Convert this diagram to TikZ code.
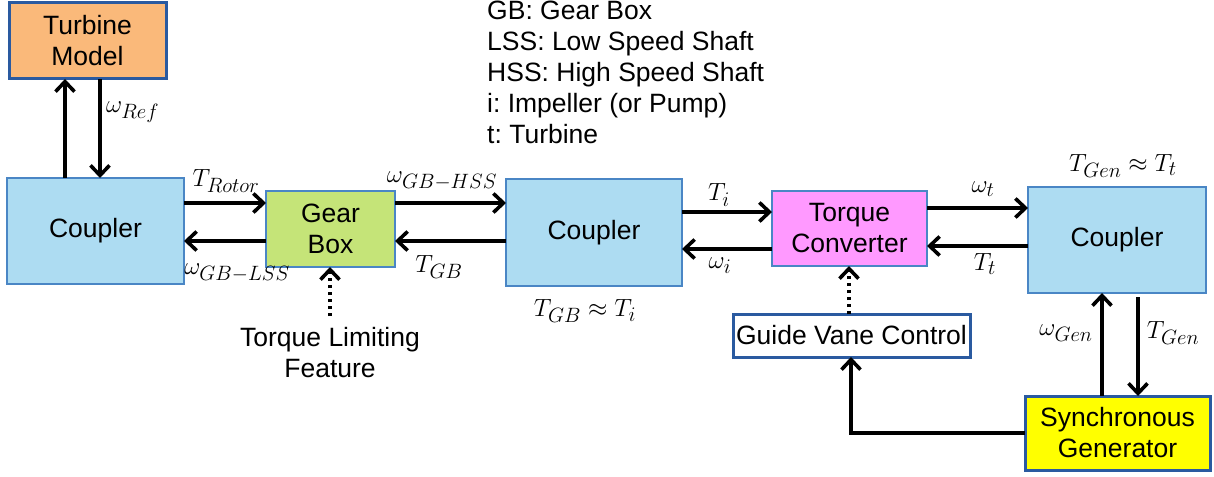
\documentclass[tikz,border=0pt]{standalone}
\usepackage{fontspec}
\setmainfont{Liberation Sans}
\usetikzlibrary{arrows.meta}
\frenchspacing
\definecolor{tmorange}{HTML}{FAB97A}
\definecolor{dkblue}{HTML}{2A5AA0}
\definecolor{cpblue}{HTML}{ADDCF2}
\definecolor{cpedge}{HTML}{4A86C5}
\definecolor{gbgreen}{HTML}{C5E478}
\definecolor{tcpink}{HTML}{FF99FF}
\definecolor{sgyellow}{HTML}{FFFF00}
\tikzset{
  box/.style={draw=cpedge, line width=1.5pt, inner sep=0pt, outer sep=0pt, align=center, font=\fontsize{26.5}{31}\selectfont},
  coupler/.style={box, fill=cpblue},
  strongbox/.style={box, draw=dkblue, line width=3pt},
  arr/.style={line width=3.6pt, -{Straight Barb[length=10pt,width=19pt,line width=3.6pt]}},
  dotarr/.style={arr, dash pattern=on 3.5pt off 3.5pt},
  lab/.style={inner sep=0pt, font=\fontsize{28}{34}\selectfont},
  txt/.style={inner sep=0pt, align=center, font=\fontsize{26.5}{31}\selectfont}
}
\begin{document}
\begin{tikzpicture}[x=1pt,y=-1pt]
\useasboundingbox (0,0) rectangle (1214,476);
% boxes
\node[strongbox, fill=tmorange, minimum width=157pt, minimum height=76pt] (tm) at (87.5,41) {Turbine\\Model};
\node[coupler, minimum width=177pt, minimum height=106pt] (c1) at (95.5,231) {Coupler};
\node[box, fill=gbgreen, minimum width=129pt, minimum height=76pt] (gb) at (330.5,229) {Gear\\Box};
\node[coupler, minimum width=176pt, minimum height=107pt] (c2) at (594,232.5) {Coupler};
\node[box, fill=tcpink, minimum width=155pt, minimum height=75pt] (tc) at (849.5,228.5) {Torque\\Converter};
\node[coupler, minimum width=178pt, minimum height=106pt] (c3) at (1117,240) {Coupler};
\node[strongbox, fill=white, minimum width=237pt, minimum height=43pt] (gvc) at (851.5,335.5) {Guide Vane Control};
\node[strongbox, fill=sgyellow, minimum width=185pt, minimum height=74pt] (sg) at (1117.5,433) {Synchronous\\Generator};
% legend
\node[txt, anchor=north west, align=left] (legend) at (487,1) {GB: Gear Box\\LSS: Low Speed Shaft\\HSS: High Speed Shaft\\i: Impeller (or Pump)\\t: Turbine};
\node[txt] (tlf) at (330,353) {Torque Limiting\\Feature};
\coordinate (tlftop) at (330,316);
% arrows
\draw[arr] (c1.north |- 0,178) ++(-30.5,0) coordinate (a1s) -- (a1s |- tm.south);
\draw[arr] (tm.south) ++(12.5,0) coordinate (a2s) -- (a2s |- c1.north);
\draw[arr] (c1.east |- 0,203) -- (gb.west |- 0,203);
\draw[arr] (gb.west |- 0,241) -- (c1.east |- 0,241);
\draw[arr] (gb.east |- 0,203) -- (c2.west |- 0,203);
\draw[arr] (c2.west |- 0,241) -- (gb.east |- 0,241);
\draw[dotarr] (tlftop) -- (tlftop |- gb.south);
\draw[arr] (c2.east |- 0,212) -- (tc.west |- 0,212);
\draw[arr] (tc.west |- 0,249) -- (c2.east |- 0,249);
\draw[arr] (tc.east |- 0,208) -- (c3.west |- 0,208);
\draw[arr] (c3.west |- 0,246) -- (tc.east |- 0,246);
\draw[dotarr] (gvc.north -| 849,0) -- (tc.south -| 849,0);
\draw[arr] (sg.north -| 1102,0) -- (c3.south -| 1102,0);
\draw[arr] (1138,0 |- c3.south) ++(0,4) coordinate (a3s) -- (a3s |- sg.north);
\draw[arr] (sg.west |- 0,433) -| (gvc.south -| 851,0);
% labels
\node[lab, anchor=west] (lref) at (106,112) {$\omega_{Ref}$};
\node[lab] (lrot) at (226,181) {$T_{Rotor}$};
\node[lab] (llss) at (237,273) {$\omega_{GB-LSS}$};
\node[lab] (lhss) at (442,181) {$\omega_{GB-HSS}$};
\node[lab] (ltgb) at (439,267) {$T_{GB}$};
\node[lab] (lgbti) at (585,311) {$T_{GB}\approx T_i$};
\node[lab] (lti) at (719,195) {$T_i$};
\node[lab] (lwi) at (720,266) {$\omega_i$};
\node[lab] (lwt) at (983,189) {$\omega_t$};
\node[lab] (ltt) at (985,264) {$T_t$};
\node[lab] (lgen) at (1123,166) {$T_{Gen}\approx T_t$};
\node[lab] (lwgen) at (1066,333) {$\omega_{Gen}$};
\node[lab] (ltgen) at (1173,333) {$T_{Gen}$};
\end{tikzpicture}
\end{document}
